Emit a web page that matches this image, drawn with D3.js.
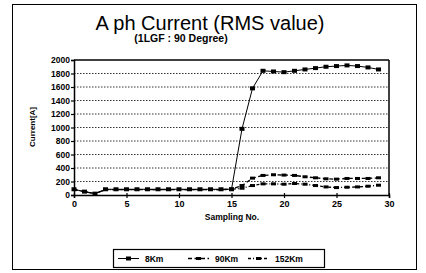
<!DOCTYPE html>
<html><head><meta charset="utf-8">
<script src="https://cdn.jsdelivr.net/npm/d3@7"></script>
<style>body{margin:0;background:#fff}text{font-family:"Liberation Sans",Arial,sans-serif;fill:#000}</style>
</head><body>
<svg id="c" width="426" height="273"></svg>
<script>
const samples = d3.range(0, 30);
const km8   = [85,50,20,85,85,85,85,85,85,85,85,85,85,85,85,85,980,1580,1840,1830,1820,1840,1860,1880,1900,1910,1920,1910,1890,1860];
const km90  = [80,50,20,80,80,80,80,80,80,80,80,80,80,80,80,85,140,250,290,300,295,290,270,255,240,235,245,245,245,255];
const km152 = [80,50,20,80,80,80,80,80,80,80,80,80,80,80,80,85,100,140,165,165,160,170,160,140,120,110,115,120,130,145];
const yTicks = [0,200,400,600,800,1000,1200,1400,1600,1800,2000];
const xTicks = [0,5,10,15,20,25,30];
const seriesNames = ["8Km","90Km","152Km"];

const svg = d3.select("#c");
svg.append("rect").attr("x",12.5).attr("y",4.5).attr("width",404).attr("height",265)
  .attr("fill","none").attr("stroke","#000").attr("stroke-width",1);

const x = d3.scaleLinear().domain([0,30]).range([74,389]);
const y = d3.scaleLinear().domain([0,2000]).range([195,60]);

svg.append("text").attr("x",210).attr("y",29.5).attr("text-anchor","middle")
  .style("font-size","20px").text("A ph Current (RMS value)");
svg.append("text").attr("x",181).attr("y",42).attr("text-anchor","middle")
  .style("font-size","10.5px").style("font-weight","bold").text("(1LGF : 90 Degree)");

// grid
svg.append("g").selectAll("line").data(yTicks.filter(d=>d>0&&d<2000)).join("line")
  .attr("x1",x(0)).attr("x2",x(30)).attr("y1",d=>y(d)).attr("y2",d=>y(d))
  .attr("stroke","#000").attr("stroke-width",0.8).attr("stroke-dasharray","1.5,1.5");

// plot frame top/right
svg.append("line").attr("x1",x(0)).attr("x2",x(30)).attr("y1",y(2000)).attr("y2",y(2000)).attr("stroke","#000").attr("stroke-width",1.5);
svg.append("line").attr("x1",x(30)).attr("x2",x(30)).attr("y1",y(2000)).attr("y2",y(0)).attr("stroke","#000").attr("stroke-width",1.5);

const ya = svg.append("g").attr("transform",`translate(${x(0)},0)`)
  .call(d3.axisLeft(y).tickValues(yTicks).tickFormat(d3.format("d")).tickSize(3).tickPadding(1));
ya.selectAll("text").style("font-size","8.5px").style("font-weight","bold");
const xa = svg.append("g").attr("transform",`translate(0,${y(0)})`)
  .call(d3.axisBottom(x).tickValues(xTicks).tickFormat(d3.format("d")).tickSize(3).tickPadding(3));
xa.selectAll("text").style("font-size","9px").style("font-weight","bold");
svg.selectAll(".domain").attr("stroke-width",1.5);
svg.selectAll(".tick line").attr("stroke-width",1.2);
xa.selectAll(".tick line").attr("y1",-2);

svg.append("text").attr("transform","translate(35,127) rotate(-90)").attr("text-anchor","middle")
  .style("font-size","8px").style("font-weight","bold").text("Current[A]");
svg.append("text").attr("x",232).attr("y",220).attr("text-anchor","middle")
  .style("font-size","8.5px").style("font-weight","bold").text("Sampling No.");

const line = d3.line().x((d,i)=>x(samples[i])).y(d=>y(d));
const data = [km8, km90, km152];
const dashes = [null, "4,2.5", "3,2,1,2"];
const widths = [1, 1.3, 1.3];

[2,1,0].forEach(k=>{
  svg.append("path").datum(data[k]).attr("d",line).attr("fill","none")
    .attr("stroke","#000").attr("stroke-width",widths[k]).attr("stroke-dasharray",dashes[k]);
});
// markers
svg.append("g").selectAll("rect").data(km8).join("rect")
  .attr("x",(d,i)=>x(samples[i])-2.5).attr("y",d=>y(d)-2).attr("width",5).attr("height",4).attr("fill","#000");
svg.append("g").selectAll("rect").data(km90.slice(15)).join("rect")
  .attr("x",(d,i)=>x(samples[i+15])-2.5).attr("y",d=>y(d)-1.5).attr("width",5).attr("height",3).attr("fill","#000");
svg.append("g").selectAll("rect").data(km152.slice(15)).join("rect")
  .attr("x",(d,i)=>x(samples[i+15])-2.5).attr("y",d=>y(d)-1.5).attr("width",5).attr("height",3).attr("fill","#000");

// legend
svg.append("rect").attr("x",113.5).attr("y",249.5).attr("width",211).attr("height",18)
  .attr("fill","none").attr("stroke","#000").attr("stroke-width",1.2);
const lx = [118,188,248];
seriesNames.forEach((n,k)=>{
  svg.append("line").attr("x1",lx[k]).attr("x2",lx[k]+21).attr("y1",258.5).attr("y2",258.5)
    .attr("stroke","#000").attr("stroke-width",widths[k]).attr("stroke-dasharray",dashes[k]);
  svg.append("rect").attr("x",lx[k]+8).attr("y",k===0?256.5:257).attr("width",5).attr("height",k===0?4:3).attr("fill","#000");
  svg.append("text").attr("x",lx[k]+27).attr("y",261.5).style("font-size","8.5px").style("font-weight","bold").text(n);
});
</script>
</body></html>
